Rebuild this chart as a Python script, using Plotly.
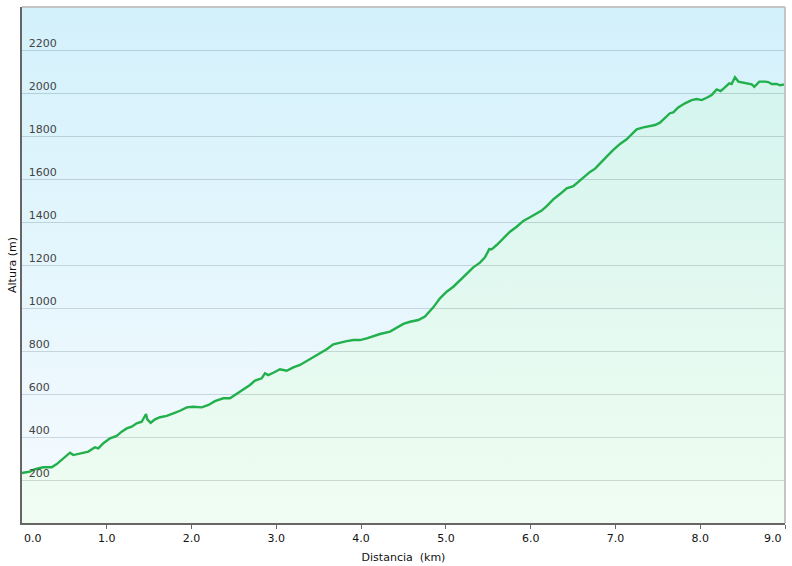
import plotly.graph_objects as go

# ---- data ----
DIST_KM = [0.0, 0.015, 0.094, 0.153, 0.25, 0.35, 0.41, 0.49, 0.566, 0.605, 0.684, 0.782, 0.861, 0.9,
           0.96, 1.038, 1.117, 1.176, 1.235, 1.294, 1.353, 1.412, 1.463, 1.478, 1.518, 1.569, 1.628,
           1.707, 1.785, 1.864, 1.943, 2.02, 2.12, 2.2, 2.276, 2.374, 2.453, 2.532, 2.61, 2.689, 2.748,
           2.827, 2.866, 2.905, 2.964, 3.043, 3.122, 3.2, 3.279, 3.358, 3.436, 3.515, 3.594, 3.672,
           3.751, 3.83, 3.908, 3.987, 4.066, 4.144, 4.223, 4.341, 4.42, 4.498, 4.577, 4.675, 4.753,
           4.812, 4.851, 4.93, 5.009, 5.088, 5.166, 5.245, 5.323, 5.402, 5.461, 5.512, 5.54, 5.599,
           5.677, 5.756, 5.835, 5.913, 5.992, 6.071, 6.13, 6.189, 6.267, 6.346, 6.425, 6.503, 6.562,
           6.64, 6.70, 6.76, 6.818, 6.896, 6.975, 7.054, 7.132, 7.191, 7.25, 7.329, 7.408, 7.467,
           7.525, 7.584, 7.643, 7.682, 7.741, 7.82, 7.899, 7.958, 8.017, 8.076, 8.135, 8.194, 8.241,
           8.291, 8.342, 8.37, 8.41, 8.45, 8.508, 8.567, 8.607, 8.638, 8.697, 8.764, 8.803, 8.843,
           8.902, 8.941, 8.988, 9.0]
ALT_M = [230, 234, 239, 250, 259, 259, 274, 301, 327, 316, 324, 332, 352, 347,
         371, 394, 405, 425, 440, 448, 464, 471, 507, 482, 466, 482, 492,
         498, 510, 522, 538, 541, 538, 549, 567, 580, 580, 600, 622, 642, 662,
         673, 696, 688, 699, 715, 708, 724, 735, 753, 771, 789, 808, 831,
         839, 846, 851, 851, 859, 870, 879, 890, 910, 926, 936, 944, 960,
         983, 1003, 1045, 1076, 1099, 1130, 1158, 1189, 1211, 1236, 1274, 1273, 1293,
         1324, 1355, 1378, 1405, 1422, 1440, 1453, 1474, 1505, 1530, 1557, 1567, 1587,
         1609, 1633, 1648, 1670, 1704, 1735, 1763, 1785, 1809, 1831, 1840, 1848, 1851,
         1862, 1882, 1906, 1910, 1933, 1952, 1967, 1972, 1967, 1978, 1991, 2017, 2009,
         2026, 2045, 2042, 2073, 2053, 2048, 2042, 2040, 2029, 2053, 2053, 2051, 2042,
         2042, 2036, 2040, 2040]
assert len(DIST_KM) == len(ALT_M), (len(DIST_KM), len(ALT_M))

X_TICKS = [0, 1, 2, 3, 4, 5, 6, 7, 8, 9]
X_TICK_LABELS = ["0.0", "1.0", "2.0", "3.0", "4.0", "5.0", "6.0", "7.0", "8.0", "9.0"]
Y_TICKS = [200, 400, 600, 800, 1000, 1200, 1400, 1600, 1800, 2000, 2200]
Y_MAX = 2400
X_MAX = 9.0

FONT = "DejaVu Sans"
TEXT_COLOR = "#111111"
ALPHA = 0.7

fig = go.Figure()

# elevation area (gradient green)
fig.add_trace(go.Scatter(
    x=DIST_KM, y=ALT_M, mode="lines", line=dict(width=0),
    fill="tozeroy",
    fillgradient=dict(type="vertical", start=0, stop=Y_MAX,
                      colorscale=[[0, f"rgba(234,252,236,{ALPHA})"],
                                  [1, f"rgba(188,238,231,{ALPHA})"]]),
    hoverinfo="skip", showlegend=False))

# sky area above the profile (gradient blue)
fig.add_trace(go.Scatter(
    x=DIST_KM, y=[Y_MAX] * len(DIST_KM), mode="lines", line=dict(width=0),
    fill="tonexty",
    fillgradient=dict(type="vertical", start=0, stop=Y_MAX,
                      colorscale=[[0, f"rgba(242,249,255,{ALPHA})"],
                                  [1, f"rgba(192,235,249,{ALPHA})"]]),
    hoverinfo="skip", showlegend=False))

# profile line
fig.add_trace(go.Scatter(
    x=DIST_KM, y=ALT_M, mode="lines",
    line=dict(color="rgb(34,176,76)", width=2.4),
    showlegend=False))

# inner tick labels drawn by the axis; the two end labels are nudged inwards
axis_text = [""] + X_TICK_LABELS[1:-1] + [""]
annotations = [
    dict(x=X_TICKS[0], y=0, xref="x", yref="paper", text=X_TICK_LABELS[0],
         showarrow=False, xanchor="left", yanchor="middle", yshift=-15, xshift=0,
         font=dict(family=FONT, size=11, color=TEXT_COLOR)),
    dict(x=X_TICKS[-1], y=0, xref="x", yref="paper", text=X_TICK_LABELS[-1],
         showarrow=False, xanchor="right", yanchor="middle", yshift=-15, xshift=-1,
         font=dict(family=FONT, size=11, color=TEXT_COLOR)),
]

fig.update_layout(
    width=792, height=566,
    margin=dict(l=22, r=7, t=7, b=43, autoexpand=False),
    paper_bgcolor="white",
    plot_bgcolor="white",
    font=dict(family=FONT, size=11, color=TEXT_COLOR),
    xaxis=dict(
        range=[0, X_MAX], tickvals=X_TICKS, ticktext=axis_text,
        automargin=False, ticklabeloverflow="allow",
        showgrid=False, zeroline=False,
        showline=True, linecolor="#666666", linewidth=2,
        ticks="outside", ticklen=4, tickcolor="#666666",
        title=dict(text="Distancia\u00a0 (km)", standoff=9, font=dict(size=11)),
    ),
    yaxis=dict(
        range=[0, Y_MAX], tickvals=Y_TICKS,
        automargin=False,
        showgrid=True, gridcolor="rgb(135,140,145)", gridwidth=1,
        zeroline=False,
        showline=True, linecolor="#666666", linewidth=2,
        ticks="", ticklabelposition="inside", ticklabelstandoff=6,
        ticklabelshift=-7,
        title=dict(text="Altura (m)", standoff=10, font=dict(size=11)),
    ),
    annotations=annotations,
    shapes=[
        dict(type="line", xref="paper", yref="paper", x0=0, x1=1, y0=1, y1=1,
             line=dict(color="#c4c4c4", width=2), layer="above"),
        dict(type="line", xref="paper", yref="paper", x0=1, x1=1, y0=0, y1=1,
             line=dict(color="#c4c4c4", width=2), layer="above"),
    ],
)

fig.write_html(
    "out.html",
    config={"displayModeBar": False},
    post_script="document.body.style.margin='0';document.body.style.overflow='hidden';",
)
